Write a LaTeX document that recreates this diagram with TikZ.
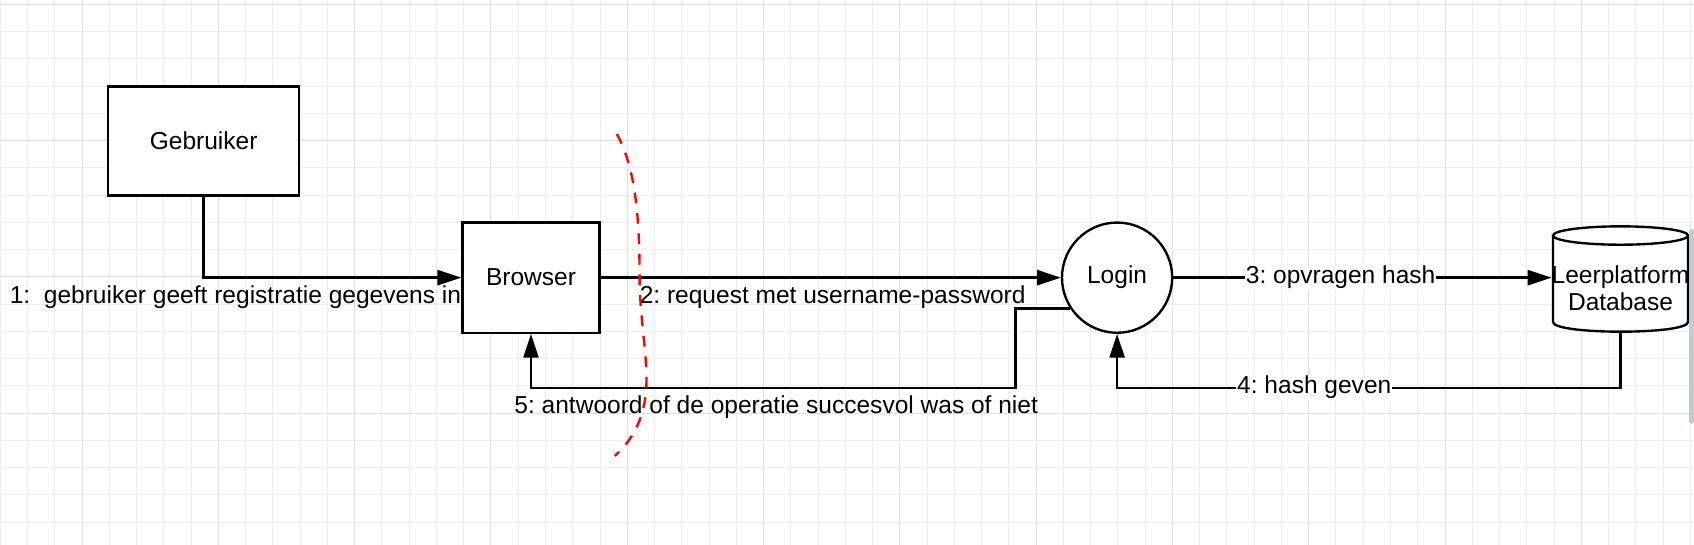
\documentclass[tikz,border=0pt]{standalone}
\usepackage{fontspec}
\setmainfont{Liberation Sans}
\usetikzlibrary{arrows.meta}
\definecolor{gridminor}{HTML}{EEEEEE}
\definecolor{gridmajor}{HTML}{E0E0E0}
\definecolor{scrollgray}{HTML}{C6C9CD}
\frenchspacing
\begin{document}
\begin{tikzpicture}[x=1pt,y=-1pt,
  every node/.style={font=\fontsize{22.7}{25}\selectfont},
  box/.style={draw, line width=2.2pt, fill=white, inner sep=0pt},
  conn/.style={line width=2.2pt, -{Triangle[length=22pt,width=14pt]}},
  plain/.style={line width=2.2pt},
  lbl/.style={inner sep=0pt, anchor=base west},
  onlbl/.style={inner sep=1pt, fill=white, anchor=base west},
  gridline/.style={line width=0.9pt}]
\useasboundingbox (0,0) rectangle (1568,504);
\fill[white] (0,0) rectangle (1568,504);
% grid
\foreach \i in {0,...,62}{
  \pgfmathtruncatemacro\m{mod(\i+2,5)}
  \ifnum\m=0 \def\gc{gridmajor}\else\def\gc{gridminor}\fi
  \draw[gridline,\gc] ({0.3+25.23*\i},0) -- ({0.3+25.23*\i},504);
}
\foreach \j in {0,...,19}{
  \pgfmathtruncatemacro\m{mod(\j,5)}
  \ifnum\m=0 \def\gc{gridmajor}\else\def\gc{gridminor}\fi
  \draw[gridline,\gc] (0,{4+25.23*\j}) -- (1568,{4+25.23*\j});
}
% nodes
\node[box, minimum width=177pt, minimum height=101pt] (geb) at (188.5,130.5) {Gebruiker};
\node[box, minimum width=127pt, minimum height=102pt] (browser) at (491.5,257) {Browser};
\node[box, circle, minimum size=102pt] (login) at (1034,257) {Login};
% cylinder
\fill[white] (1437.5,218) -- (1437.5,298) .. controls (1437.5,310) and (1562.5,310) .. (1562.5,298) -- (1562.5,218) -- cycle;
\draw[plain] (1437.5,218) -- (1437.5,298) .. controls (1437.5,310) and (1562.5,310) .. (1562.5,298) -- (1562.5,218);
\draw[plain, fill=white] (1500,218) ellipse [x radius=62.5pt, y radius=8.5pt];
\node[inner sep=0pt, minimum width=125pt, minimum height=81pt, align=center] (db) at (1500,266.5) {Leerplatform\\Database};
% connectors
\draw[conn] (geb.south) |- (browser.west);
\draw[conn] (browser.east) -- (login.west);
\draw[conn] (login.east) -- (db.west |- login.east);
\coordinate (c4) at (1034,359);
\draw[conn] (db.south) |- (c4) -- (login.south);
\coordinate (c5) at (940,359);
\draw[conn] (login.213) -| (c5) -| (browser.south);
% labels
\node[inner sep=0pt, anchor=base east] (l1) at (427,281) {1:\ \ gebruiker geeft registratie gegevens in};
\node[lbl] (l2) at (592,281) {2: request met username-password};
\node[onlbl] (l3) at (1152,262.5) {3: opvragen hash};
\node[onlbl] (l4) at (1144,364.5) {4: hash geven};
\node[lbl] (l5) at (476,383) {5: antwoord of de operatie succesvol was of niet};
% red dashed curve
\draw[red, line width=2.2pt, dash pattern=on 10pt off 9pt] (571,124) .. controls (588,155) and (592,200) .. (592,256) .. controls (592,300) and (602,340) .. (597,370) .. controls (593,395) and (582,410) .. (569,422);
% scrollbar
\fill[scrollgray, rounded corners=2pt] (1563.5,212) rectangle (1568,392);
\end{tikzpicture}
\end{document}
